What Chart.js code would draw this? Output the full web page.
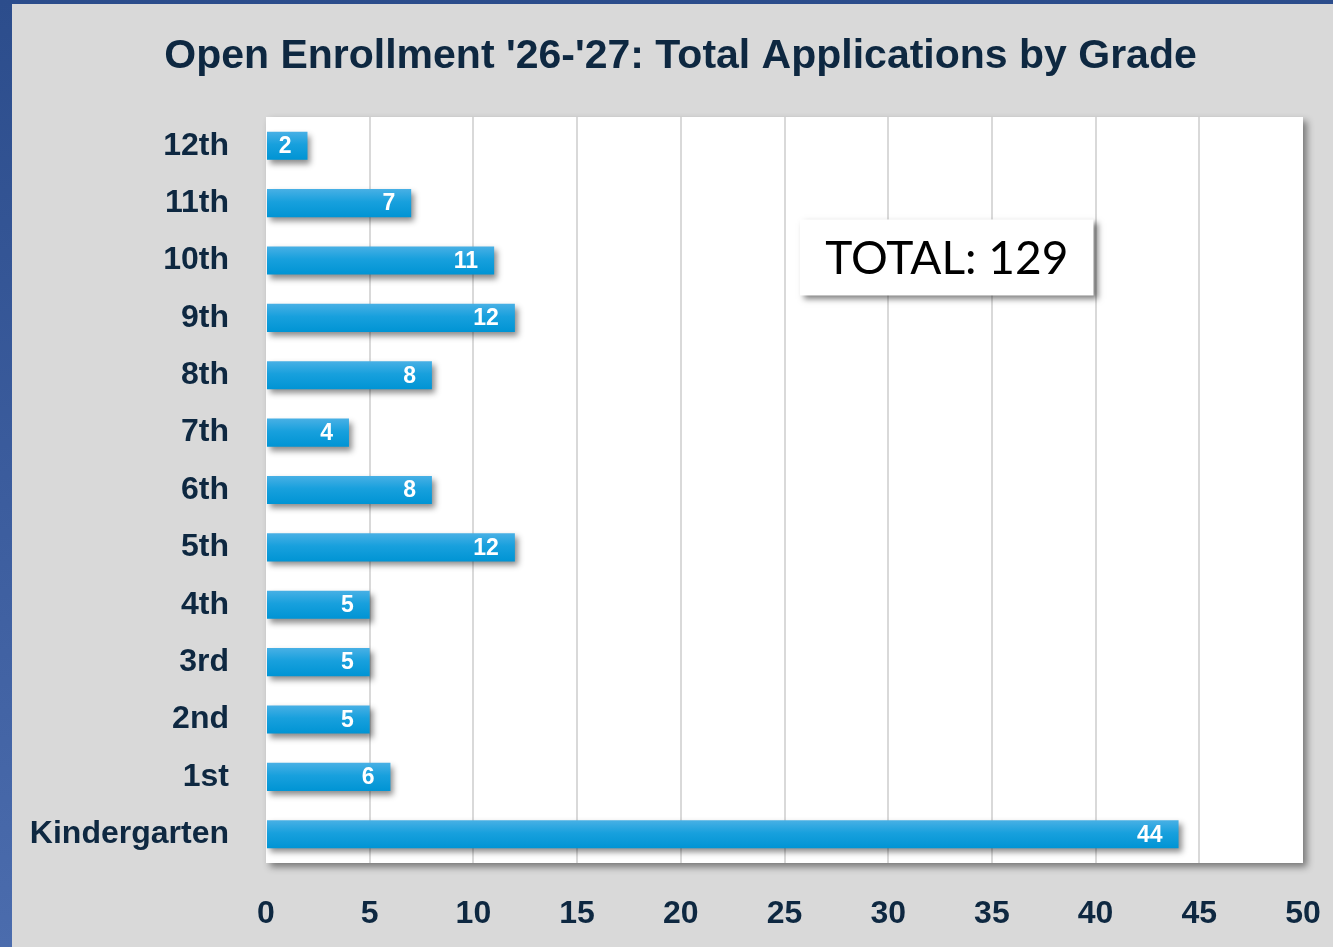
<!DOCTYPE html>
<html>
<head>
<meta charset="utf-8">
<script src="https://cdn.jsdelivr.net/npm/chart.js@4.4.1/dist/chart.umd.min.js"></script>
<style>
  html, body { margin: 0; padding: 0; }
  body {
    width: 1333px; height: 947px; overflow: hidden;
    background: linear-gradient(180deg, #2c4d8c 0%, #3b5c9d 50%, #4b6cad 100%);
  }
  #frame {
    position: absolute; left: 12px; top: 4px;
    width: 1321px; height: 943px;
    background: #d9d9d9;
  }
  #chart { display: block; }
</style>
</head>
<body>
<div id="frame"><canvas id="chart" width="1321" height="943"></canvas></div>
<script>
'use strict';

// grades, bottom to top as in the picture
const GRADES = ['Kindergarten', '1st', '2nd', '3rd', '4th', '5th', '6th',
                '7th', '8th', '9th', '10th', '11th', '12th'];
const APPLICATIONS = [44, 6, 5, 5, 5, 12, 8, 4, 8, 12, 11, 7, 2];
const X_MAX = 50;
const X_STEP = 5;
const TITLE = "Open Enrollment '26-'27: Total Applications by Grade";

const NAVY = '#0e2841';

/* White plot area with a soft drop shadow behind everything */
const plotBackground = {
  id: 'plotBackground',
  beforeDraw(chart) {
    const { ctx, chartArea: a } = chart;
    ctx.save();
    ctx.shadowColor = 'rgba(0,0,0,0.45)';
    ctx.shadowBlur = 7;
    ctx.shadowOffsetX = 4;
    ctx.shadowOffsetY = 4;
    ctx.fillStyle = '#ffffff';
    ctx.fillRect(a.left, a.top, a.right - a.left, a.bottom - a.top);
    ctx.restore();
  }
};

/* Drop shadow under the bars */
const barShadow = {
  id: 'barShadow',
  beforeDatasetDraw(chart) {
    const ctx = chart.ctx;
    ctx.save();
    ctx.shadowColor = 'rgba(0,0,0,0.45)';
    ctx.shadowBlur = 6;
    ctx.shadowOffsetX = 3;
    ctx.shadowOffsetY = 4;
  },
  afterDatasetDraw(chart) {
    chart.ctx.restore();
  }
};

/* Title, value labels and the TOTAL box */
const overlay = {
  id: 'overlay',
  afterDraw(chart) {
    const { ctx, scales } = chart;
    const meta = chart.getDatasetMeta(0);

    ctx.save();
    ctx.fillStyle = NAVY;
    ctx.font = 'bold 41px "Liberation Sans", Arial, sans-serif';
    ctx.textAlign = 'center';
    ctx.textBaseline = 'middle';
    ctx.fillText(TITLE, chart.width / 2 + 8, 53);

    // value labels, inside the bar end
    ctx.fillStyle = '#ffffff';
    ctx.font = 'bold 23px "Liberation Sans", Arial, sans-serif';
    ctx.textAlign = 'right';
    meta.data.forEach((bar, i) => {
      ctx.fillText(String(APPLICATIONS[i]), bar.x - 16, bar.y + 1);
    });

    // total box
    const total = APPLICATIONS.reduce((s, v) => s + v, 0);
    const left = scales.x.getPixelForValue(25.75);
    const right = scales.x.getPixelForValue(39.9);
    const cy = scales.y.getPixelForValue(GRADES.indexOf('10th')) - 3;
    const h = 76;
    ctx.shadowColor = 'rgba(0,0,0,0.5)';
    ctx.shadowBlur = 6;
    ctx.shadowOffsetX = 4;
    ctx.shadowOffsetY = 4;
    ctx.fillStyle = '#ffffff';
    ctx.fillRect(left, cy - h / 2, right - left, h);
    ctx.shadowColor = 'transparent';
    ctx.fillStyle = '#000000';
    ctx.font = '46px Lato, "Noto Sans", sans-serif';
    ctx.textAlign = 'center';
    ctx.fillText('TOTAL: ' + total, (left + right) / 2, cy + 2);
    ctx.restore();
  }
};

function barGradient(context) {
  const chart = context.chart;
  const yScale = chart.scales.y;
  if (!chart.chartArea || !yScale || context.dataIndex === undefined) return '#10a0dc';
  const y = yScale.getPixelForValue(context.dataIndex);
  const half = 14;
  const g = chart.ctx.createLinearGradient(0, y - half, 0, y + half);
  g.addColorStop(0, '#48b0e5');
  g.addColorStop(0.45, '#18a0dd');
  g.addColorStop(1, '#0094d4');
  return g;
}

new Chart(document.getElementById('chart'), {
  type: 'bar',
  data: {
    labels: GRADES,
    datasets: [{
      data: APPLICATIONS,
      backgroundColor: barGradient,
      borderWidth: 0,
      categoryPercentage: 1,
      barPercentage: 0.49
    }]
  },
  options: {
    indexAxis: 'y',
    responsive: false,
    animation: false,
    layout: { padding: { top: 113, right: 30, left: 0, bottom: 0 } },
    plugins: {
      legend: { display: false },
      tooltip: { enabled: false }
    },
    scales: {
      x: {
        min: 0,
        max: X_MAX,
        border: { display: false },
        grid: {
          drawTicks: false,
          lineWidth: 2,
          color: (c) => (c.tick && (c.tick.value === 0 || c.tick.value === X_MAX)) ? 'rgba(0,0,0,0)' : '#d9d9d9'
        },
        ticks: {
          stepSize: X_STEP,
          padding: 32,
          color: NAVY,
          font: { family: '"Liberation Sans", Arial, sans-serif', size: 32, weight: 'bold' }
        },
        afterFit(scale) {
          scale.height = 84;
          scale.paddingLeft = 0;
          scale.paddingRight = 0;
        }
      },
      y: {
        reverse: true,
        border: { display: false },
        grid: { display: false, drawTicks: false },
        ticks: {
          padding: 37,
          color: NAVY,
          font: { family: '"Liberation Sans", Arial, sans-serif', size: 32, weight: 'bold' }
        },
        afterFit(scale) { scale.width = 254; }
      }
    }
  },
  plugins: [plotBackground, barShadow, overlay]
});
</script>
</body>
</html>
